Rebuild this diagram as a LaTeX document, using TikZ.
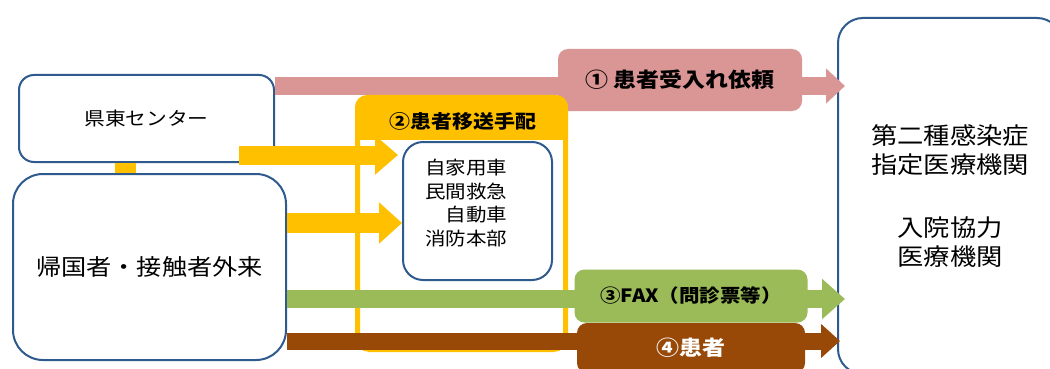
\documentclass[tikz,border=0pt]{standalone}
\usepackage{fontspec}
\setmainfont{Noto Sans CJK JP}[FakeStretch=1.12]
\usetikzlibrary{arrows.meta,positioning}
\definecolor{boxblue}{HTML}{2F5A8E}
\definecolor{reqpink}{HTML}{D99694}
\definecolor{moveyel}{HTML}{FFC000}
\definecolor{faxgreen}{HTML}{9BBB59}
\definecolor{ptbrown}{HTML}{984807}

\begin{document}
\begin{tikzpicture}[x=1pt,y=-1pt,
		rbox/.style={draw=boxblue,line width=2pt,rounded corners=#1,inner sep=0pt,align=center},
		bar/.style={line width=#1},
		tag/.style={rounded corners=10pt,inner sep=0pt}]
		\useasboundingbox[fill=white] (0,0) rectangle (1050,369);
		% rows of the fat arrows
		\coordinate (rowA) at (0,86);
		\coordinate (rowC) at (0,223);
		\coordinate (rowD) at (0,299);
		\coordinate (rowE) at (0,341);
		\coordinate (yelstart) at (239,155);
		% boxes
		\node[rbox=25pt, minimum width=224pt, minimum height=356pt, font=\fontsize{23.5}{29}\selectfont] (hosp) at (950,196) {第二種感染症\\指定医療機関\\[34pt]入院協力\\医療機関};
		\node[rbox=30pt, minimum width=273pt, minimum height=186pt, font=\fontsize{22.5}{27}\selectfont] (gairai) at (149.5,267) {帰国者・接触者外来};
		\node[rbox=15pt, minimum width=255pt, minimum height=87pt, font=\fontsize{18.5}{22}\selectfont, above=10pt of gairai, xshift=-3pt] (kento) {県東センター};
		\coordinate (link) at ([xshift=-21pt]kento.south);
		\draw[moveyel, bar=21pt] (link) -- (link |- gairai.north);
		% request
		\draw[reqpink, bar=18pt, -{Triangle[length=19pt,width=34pt]}, shorten >=-8pt] (kento.east |- rowA) -- (hosp.west |- rowA);
		\node[tag, fill=reqpink, minimum width=244pt, minimum height=62pt, font=\bfseries\fontsize{20.5}{24}\selectfont] (req) at (680,80) {① 患者受入れ依頼};
		% transport frame
		\node[draw=moveyel, line width=5pt, rounded corners=12pt, minimum width=208pt, minimum height=252pt, inner sep=0pt] (haisha) at (461.5,223.5) {};
		\begin{scope}
			\clip[rounded corners=12pt] (haisha.north west) rectangle (haisha.south east);
			\fill[moveyel] (haisha.north west) rectangle ([yshift=-45pt]haisha.north east);
		\end{scope}
		\node[font=\bfseries\fontsize{18.7}{22}\selectfont] (haishatxt) at (463,121) {②患者移送手配};
		\node[rbox=20pt, minimum width=149pt, minimum height=138pt] (ido) at (477.5,211) {};
		\node[font=\fontsize{18.3}{23.7}\selectfont, align=left] (idotxt) at (466,203) {自家用車\\民間救急\\\hphantom{自}自動車\\消防本部};
		\draw[moveyel, bar=19pt, -{Triangle[length=23pt,width=38pt]}, shorten >=4pt] (yelstart) -- (ido.west |- yelstart);
		\draw[moveyel, bar=20pt, -{Triangle[length=23pt,width=40pt]}] (gairai.east |- rowC) -- (ido.west |- rowC);
		% fax and patient
		\draw[faxgreen, bar=18pt, -{Triangle[length=23pt,width=39pt]}, shorten >=-8pt] (gairai.east |- rowD) -- (hosp.west |- rowD);
		\node[tag, fill=faxgreen, minimum width=233pt, minimum height=53pt, font=\bfseries\fontsize{18.3}{22}\selectfont] (fax) at (691,296) {③FAX（問診票等）};
		\draw[ptbrown, bar=17pt, -{Triangle[length=19pt,width=33pt]}, shorten >=-3pt] (gairai.east |- rowE) -- (hosp.west |- rowE);
		\node[tag, fill=ptbrown, text=white, minimum width=228pt, minimum height=50pt, font=\bfseries\fontsize{20.5}{24}\selectfont] (kanja) at (691,348) {④患者};
	\end{tikzpicture}
\end{document}
